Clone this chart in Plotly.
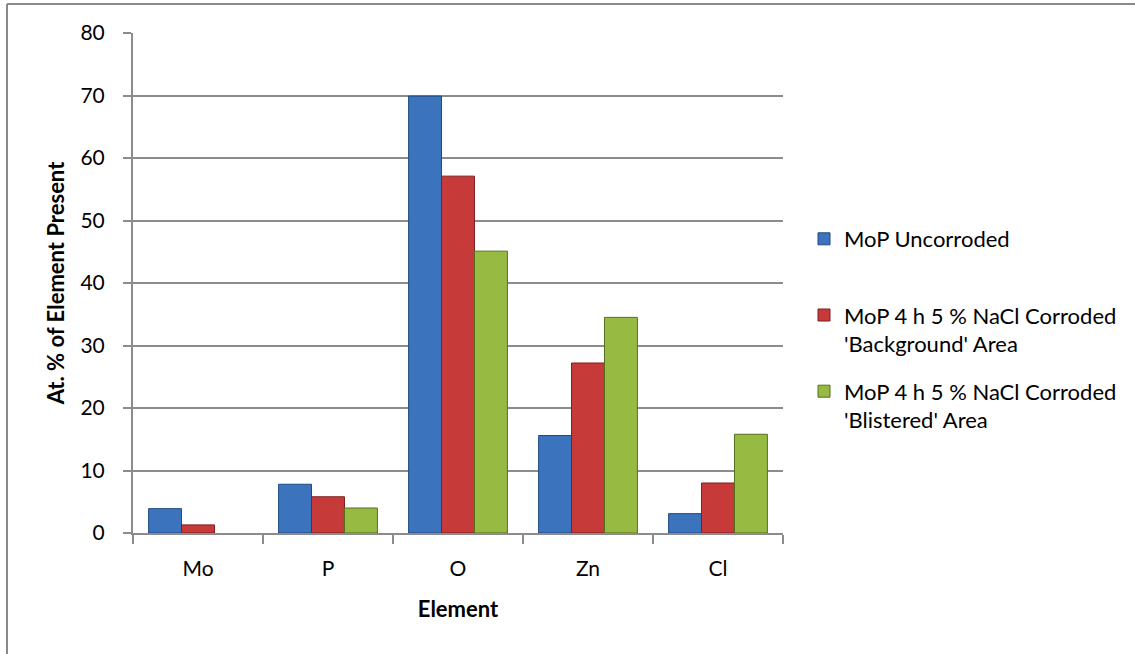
import plotly.graph_objects as go

# Element composition data (atomic %)
elements = ["Mo", "P", "O", "Zn", "Cl"]
uncorroded = [3.9, 7.8, 69.9, 15.6, 3.1]
background_area = [1.3, 5.8, 57.1, 27.2, 8.0]
blistered_area = [None, 4.0, 45.1, 34.5, 15.8]

series_names = [
    "MoP Uncorroded<br> ",
    "MoP 4 h 5 % NaCl Corroded<br>'Background' Area",
    "MoP 4 h 5 % NaCl Corroded<br>'Blistered' Area",
]
fill_colors = ["#3b73bd", "#c63b3a", "#97ba42"]
edge_colors = ["#1f4a82", "#7e1f1e", "#566f1f"]

y_ticks = [0, 10, 20, 30, 40, 50, 60, 70, 80]

FONT = "Lato"
GRID = "#8c8c8c"

fig = go.Figure()
for i, vals in enumerate([uncorroded, background_area, blistered_area]):
    fig.add_trace(go.Bar(
        x=elements,
        y=vals,
        name=series_names[i],
        legendgroup=f"g{i}",
        marker=dict(color=fill_colors[i], line=dict(color=edge_colors[i], width=1)),
    ))

W, H = 1135, 654
L, R, T, B = 133, 352, 33, 121
pw, ph = W - L - R, H - T - B


def px_x(p):
    return (p - L) / pw


def px_y(p):
    return (H - B - p) / ph


fig.update_layout(
    width=W,
    height=H,
    margin=dict(l=L, r=R, t=T, b=B, pad=0),
    paper_bgcolor="white",
    plot_bgcolor="white",
    barmode="group",
    bargap=0.24,
    bargroupgap=0,
    font=dict(family=FONT, size=21, color="#000000"),
    showlegend=True,
    legend=dict(
        x=px_x(804), y=px_y(218), xanchor="left", yanchor="top",
        font=dict(family=FONT, size=22, color="#000000"),
        valign="top", tracegroupgap=16, bgcolor="rgba(0,0,0,0)",
    ),
    xaxis=dict(
        showline=True, linecolor=GRID, linewidth=2,
        ticks="outside", ticklen=9, tickwidth=1.5, tickcolor=GRID,
        tickson="boundaries", ticklabelstandoff=16,
        showgrid=False,
        tickfont=dict(family=FONT, size=21),
        title=dict(text="<b>Element</b>", font=dict(family=FONT, size=22), standoff=22),
    ),
    yaxis=dict(
        range=[0, 80], tickvals=y_ticks,
        showline=True, linecolor=GRID, linewidth=2,
        ticks="outside", ticklen=8, tickwidth=1.5, tickcolor=GRID,
        ticklabelstandoff=14,
        showgrid=True, gridcolor=GRID, gridwidth=2,
        zeroline=False,
        tickfont=dict(family=FONT, size=21),
        title=dict(text="<b>At. % of Element Present</b>", font=dict(family=FONT, size=22), standoff=10),
    ),
    shapes=[
        # chart frame: top and left edges
        dict(type="line", xref="paper", yref="paper",
             x0=px_x(7), x1=px_x(W + 5), y0=px_y(4), y1=px_y(4),
             line=dict(color="#898989", width=2)),
        dict(type="line", xref="paper", yref="paper",
             x0=px_x(7), x1=px_x(7), y0=px_y(4), y1=px_y(H + 5),
             line=dict(color="#898989", width=2)),
    ],
)

fig.write_html("out.html")
